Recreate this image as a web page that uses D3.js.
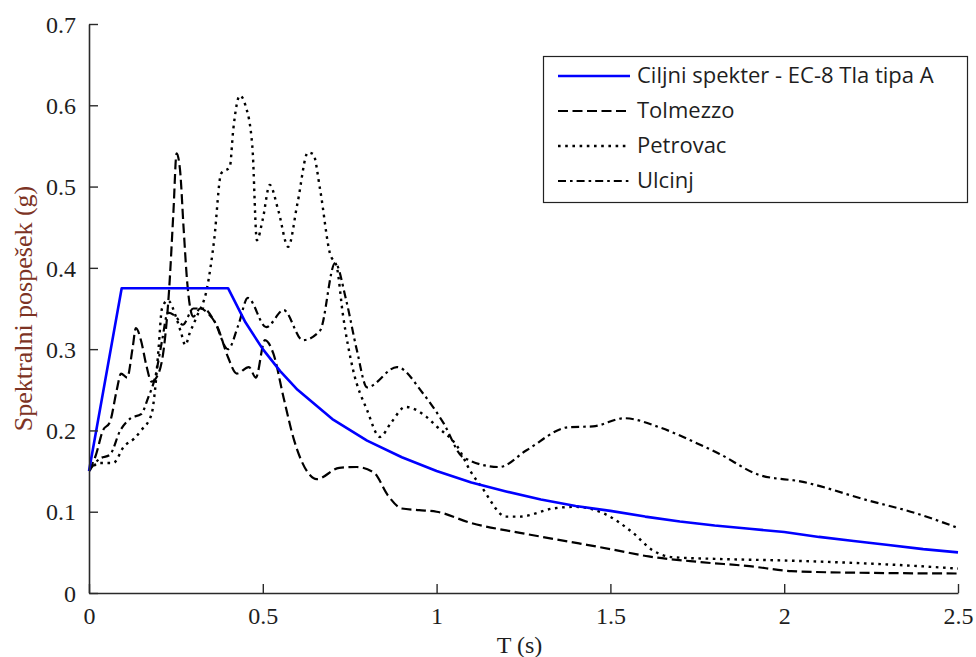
<!DOCTYPE html>
<html>
<head>
<meta charset="utf-8">
<script src="https://cdn.jsdelivr.net/npm/d3@7"></script>
<style>
  html, body { margin: 0; padding: 0; background: #fff; }
  svg { display: block; }
</style>
</head>
<body>
<svg id="chart" width="976" height="657"></svg>
<script>
// Period T (s) and spectral acceleration Sa (g) for each spectrum
const targetT  = [0, 0.094, 0.4, 0.45, 0.5, 0.55, 0.6, 0.7, 0.8, 0.9, 1.0, 1.1, 1.2, 1.3, 1.4, 1.5, 1.6, 1.7, 1.8, 1.9, 2.0, 2.1, 2.2, 2.3, 2.4, 2.5];
const targetSa = [0.15, 0.375, 0.375, 0.333, 0.3, 0.273, 0.25, 0.214, 0.1875, 0.167, 0.15, 0.136, 0.125, 0.115, 0.107, 0.101, 0.094, 0.088, 0.083, 0.079, 0.075, 0.069, 0.064, 0.059, 0.054, 0.05];

const tolmezzoT  = [0, 0.02, 0.04, 0.06, 0.08, 0.092, 0.11, 0.125, 0.135, 0.15, 0.165, 0.18, 0.2, 0.215, 0.23, 0.243, 0.252, 0.262, 0.272, 0.283, 0.3, 0.32, 0.34, 0.37, 0.4, 0.425, 0.46, 0.48, 0.506, 0.53, 0.56, 0.59, 0.63, 0.655, 0.72, 0.77, 0.82, 0.86, 0.9, 0.95, 1.0, 1.1, 1.24, 1.41, 1.5, 1.61, 1.76, 1.9, 2.02, 2.2, 2.5];
const tolmezzoSa = [0.15, 0.17, 0.2, 0.21, 0.25, 0.27, 0.265, 0.3, 0.326, 0.31, 0.28, 0.26, 0.27, 0.3, 0.37, 0.47, 0.541, 0.52, 0.45, 0.38, 0.34, 0.35, 0.345, 0.327, 0.29, 0.27, 0.278, 0.265, 0.311, 0.295, 0.24, 0.188, 0.148, 0.14, 0.154, 0.155, 0.148, 0.12, 0.104, 0.102, 0.1, 0.086, 0.074, 0.061, 0.054, 0.045, 0.038, 0.033, 0.027, 0.025, 0.024];

const petrovacT  = [0, 0.03, 0.07, 0.1, 0.13, 0.15, 0.18, 0.19, 0.2, 0.21, 0.227, 0.25, 0.265, 0.277, 0.29, 0.31, 0.34, 0.36, 0.38, 0.405, 0.415, 0.434, 0.45, 0.47, 0.483, 0.5, 0.52, 0.545, 0.573, 0.6, 0.63, 0.645, 0.665, 0.693, 0.713, 0.73, 0.76, 0.8, 0.837, 0.87, 0.91, 0.97, 1.0, 1.06, 1.1, 1.13, 1.2, 1.24, 1.335, 1.4, 1.48, 1.565, 1.62, 1.68, 1.8, 2.0, 2.2, 2.35, 2.5];
const petrovacSa = [0.15, 0.16, 0.16, 0.18, 0.19, 0.2, 0.22, 0.25, 0.3, 0.35, 0.36, 0.34, 0.32, 0.305, 0.32, 0.34, 0.376, 0.434, 0.516, 0.524, 0.57, 0.612, 0.6, 0.549, 0.434, 0.46, 0.502, 0.47, 0.426, 0.48, 0.542, 0.54, 0.496, 0.418, 0.401, 0.344, 0.274, 0.225, 0.192, 0.21, 0.229, 0.217, 0.205, 0.18, 0.148, 0.13, 0.094, 0.094, 0.104, 0.106, 0.098, 0.074, 0.053, 0.044, 0.042, 0.04, 0.037, 0.034, 0.03];

const ulcinjT  = [0, 0.03, 0.06, 0.09, 0.12, 0.15, 0.17, 0.19, 0.21, 0.227, 0.25, 0.27, 0.3, 0.33, 0.36, 0.4, 0.43, 0.457, 0.51, 0.56, 0.615, 0.665, 0.708, 0.74, 0.77, 0.8, 0.886, 0.96, 1.02, 1.076, 1.18, 1.26, 1.38, 1.45, 1.54, 1.64, 1.75, 1.81, 1.93, 2.05, 2.24, 2.38, 2.5];
const ulcinjSa = [0.15, 0.165, 0.17, 0.2, 0.215, 0.22, 0.24, 0.265, 0.31, 0.345, 0.34, 0.33, 0.35, 0.35, 0.335, 0.3, 0.33, 0.363, 0.327, 0.348, 0.311, 0.323, 0.406, 0.36, 0.3, 0.253, 0.278, 0.246, 0.209, 0.167, 0.155, 0.176, 0.204, 0.205, 0.215, 0.204, 0.184, 0.172, 0.145, 0.137, 0.114, 0.098, 0.08];

const seriesNames = ["Ciljni spekter - EC-8 Tla tipa A", "Tolmezzo", "Petrovac", "Ulcinj"];
const xTicks = [0, 0.5, 1, 1.5, 2, 2.5];
const yTicks = [0, 0.1, 0.2, 0.3, 0.4, 0.5, 0.6, 0.7];

const zip = (ts, vs) => ts.map((t, i) => ({ t, v: vs[i] }));
const series = [
  { name: seriesNames[0], data: zip(targetT, targetSa),     color: "#0000ff", width: 2.6, dash: null,        curve: d3.curveLinear },
  { name: seriesNames[1], data: zip(tolmezzoT, tolmezzoSa), color: "#000",    width: 2.2, dash: "10,4.5",    curve: d3.curveMonotoneX },
  { name: seriesNames[2], data: zip(petrovacT, petrovacSa), color: "#000",    width: 2.4, dash: "2.6,4.6",   curve: d3.curveMonotoneX },
  { name: seriesNames[3], data: zip(ulcinjT, ulcinjSa),     color: "#000",    width: 2.2, dash: "8,4,2.6,4", curve: d3.curveMonotoneX }
];

const svg = d3.select("#chart");
const plot = { left: 89, right: 958, top: 24, bottom: 593 };

const x = d3.scaleLinear().domain([0, 2.5]).range([plot.left, plot.right]);
const y = d3.scaleLinear().domain([0, 0.7]).range([plot.bottom, plot.top]);

const serif = "'Liberation Serif', 'Times New Roman', serif";
const axisColor = "#2a2a2a";

// Data lines, drawn so the target spectrum sits on top of the records
const lineGen = c => d3.line().x(d => x(d.t)).y(d => y(d.v)).curve(c);
const order = [1, 2, 3, 0];
svg.append("g").selectAll("path")
  .data(order.map(i => series[i]))
  .join("path")
  .attr("d", s => lineGen(s.curve)(s.data))
  .attr("fill", "none")
  .attr("stroke", s => s.color)
  .attr("stroke-width", s => s.width)
  .attr("stroke-dasharray", s => s.dash)
  .attr("stroke-linejoin", "round");

// Axes: left and bottom only, ticks pointing inward
const xAxis = d3.axisBottom(x).tickValues(xTicks).tickSizeInner(-9).tickSizeOuter(0)
  .tickPadding(14).tickFormat(d3.format("~g"));
const yAxis = d3.axisLeft(y).tickValues(yTicks).tickSizeInner(-9).tickSizeOuter(0)
  .tickPadding(13).tickFormat(d3.format("~g"));

const gx = svg.append("g").attr("transform", `translate(0,${plot.bottom})`).call(xAxis);
const gy = svg.append("g").attr("transform", `translate(${plot.left},0)`).call(yAxis);

[gx, gy].forEach(g => {
  g.select(".domain").attr("stroke", axisColor).attr("stroke-width", 1.6);
  g.selectAll(".tick line").attr("stroke", axisColor).attr("stroke-width", 1.4);
  g.selectAll(".tick text")
    .attr("font-family", serif)
    .attr("font-size", 24)
    .attr("fill", "#1e1e1e");
});
gy.selectAll(".tick text").attr("dy", "0.34em");

// Axis titles
svg.append("text")
  .attr("x", (plot.left + plot.right) / 2 - 4)
  .attr("y", 653)
  .attr("text-anchor", "middle")
  .attr("font-family", serif)
  .attr("font-size", 24)
  .attr("fill", "#1e1e1e")
  .text("T (s)");

svg.append("text")
  .attr("transform", `translate(32,${(plot.top + plot.bottom) / 2}) rotate(-90)`)
  .attr("text-anchor", "middle")
  .attr("font-family", serif)
  .attr("font-size", 26)
  .attr("fill", "#7d3324")
  .text("Spektralni pospešek (g)");

// Legend
const legend = svg.append("g");
legend.append("rect")
  .attr("x", 543.5).attr("y", 56.5)
  .attr("width", 424).attr("height", 146)
  .attr("fill", "#fff")
  .attr("stroke", "#222")
  .attr("stroke-width", 1.2);

const rows = legend.selectAll("g.row")
  .data(series)
  .join("g")
  .attr("class", "row")
  .attr("transform", (d, i) => `translate(0,${83 + i * 35})`);

rows.append("line")
  .attr("x1", 558).attr("x2", 630)
  .attr("y1", -7).attr("y2", -7)
  .attr("stroke", d => d.color)
  .attr("stroke-width", d => d.width)
  .attr("stroke-dasharray", d => d.dash);

rows.append("text")
  .attr("x", 637)
  .attr("y", 0)
  .attr("font-family", "'Open Sans', 'Noto Sans', sans-serif")
  .attr("font-size", 22)
  .attr("fill", "#1e1e1e")
  .text(d => d.name);
</script>
</body>
</html>
